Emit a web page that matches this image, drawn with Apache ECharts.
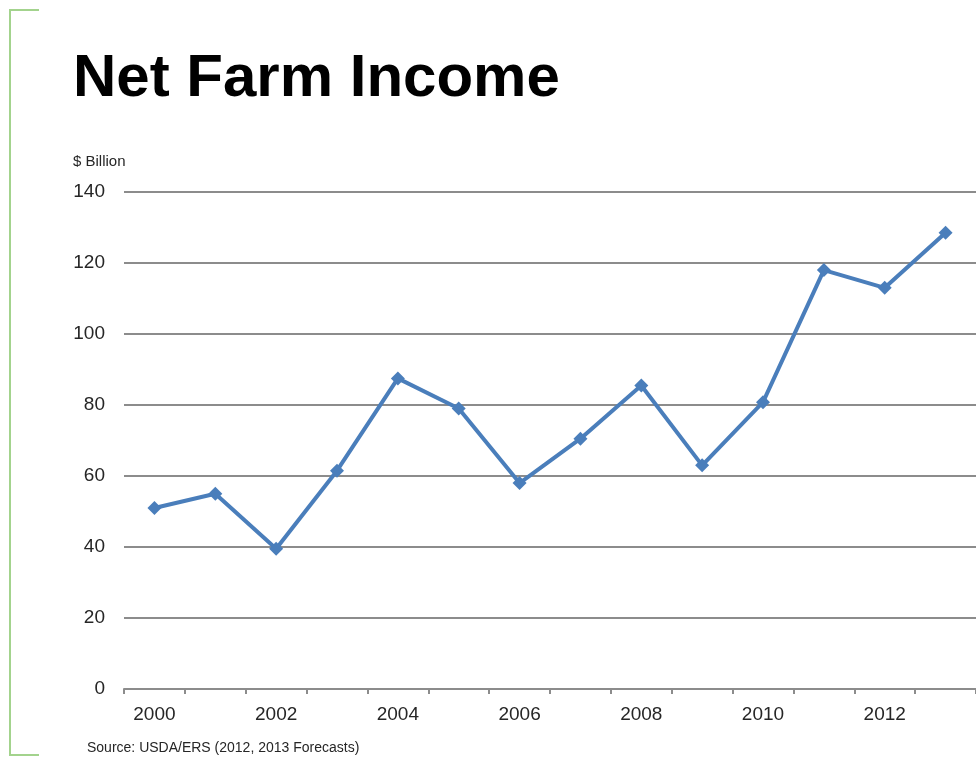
<!DOCTYPE html>
<html>
<head>
<meta charset="utf-8">
<title>Net Farm Income</title>
<script src="https://cdn.jsdelivr.net/npm/echarts@6/dist/echarts.min.js"></script>
<style>
  html, body { margin: 0; padding: 0; background: #ffffff; }
  #chart { width: 976px; height: 759px; }
</style>
</head>
<body>
<div id="chart"></div>
<script>
// Net farm income by year, $ billion (2012 and 2013 are forecasts)
const years = ['2000', '2001', '2002', '2003', '2004', '2005', '2006',
               '2007', '2008', '2009', '2010', '2011', '2012', '2013'];
const netIncome = [51, 55, 39.5, 61.5, 87.5, 79, 58, 70.5, 85.5, 63, 80.8, 118, 113, 128.5];
const yTicks = { min: 0, max: 140, interval: 20 };

const chart = echarts.init(document.getElementById('chart'), null, { renderer: 'canvas' });

const font = '"Liberation Sans", Arial, Helvetica, sans-serif';
const green = '#a3d38d';
const textColor = '#262626';

chart.setOption({
  backgroundColor: '#ffffff',
  animation: false,
  graphic: [
    // left bracket framing the slide
    {
      type: 'polyline',
      shape: { points: [[39, 10], [10, 10], [10, 755], [39, 755]] },
      style: { stroke: green, lineWidth: 2, fill: null }
    },
    {
      type: 'text', left: 73, top: 49,
      style: { text: 'Net Farm Income', font: 'bold 60px ' + font, fill: '#000000' }
    },
    {
      type: 'text', left: 73, top: 154,
      style: { text: '$ Billion', font: '15px ' + font, fill: textColor }
    },
    {
      type: 'text', left: 87, top: 741,
      style: { text: 'Source: USDA/ERS (2012, 2013 Forecasts)', font: '14px ' + font, fill: textColor }
    }
  ],
  grid: { left: 124, right: -6, top: 192, bottom: 70, containLabel: false },
  xAxis: {
    type: 'category',
    data: years,
    boundaryGap: true,
    axisLine: { lineStyle: { color: '#8c8c8c', width: 2 } },
    axisTick: { show: true, alignWithLabel: false, interval: 0, length: 5, lineStyle: { color: '#8c8c8c', width: 2 } },
    axisLabel: { interval: 1, color: textColor, fontSize: 19, fontFamily: font, margin: 16 },
    splitLine: { show: false }
  },
  yAxis: {
    type: 'value',
    min: yTicks.min,
    max: yTicks.max,
    interval: yTicks.interval,
    axisLine: { show: false },
    axisTick: { show: false },
    axisLabel: { color: textColor, fontSize: 19, fontFamily: font, margin: 19 },
    splitLine: { lineStyle: { color: '#8c8c8c', width: 2 } }
  },
  series: [{
    type: 'line',
    data: netIncome,
    symbol: 'diamond',
    symbolSize: 14,
    lineStyle: { color: '#4a7ebb', width: 4 },
    itemStyle: { color: '#4a7ebb' },
    z: 3
  }]
});
</script>
</body>
</html>
